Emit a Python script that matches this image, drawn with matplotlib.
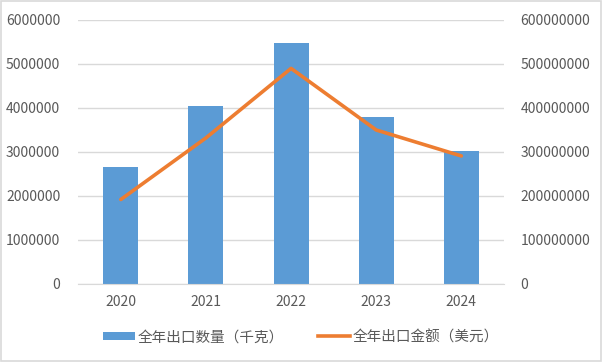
import matplotlib
matplotlib.use("Agg")
import matplotlib.pyplot as plt
from matplotlib.patches import Patch, Rectangle
from matplotlib.lines import Line2D
from matplotlib.ticker import FixedLocator

plt.rcParams['font.family'] = ['Noto Sans CJK SC', 'DejaVu Sans']

years = ["2020", "2021", "2022", "2023", "2024"]
quantity_kg = [2670000, 4050000, 5480000, 3800000, 3030000]
value_usd = [192000000, 332000000, 490000000, 350000000, 291000000]
left_ticks = [0, 1000000, 2000000, 3000000, 4000000, 5000000, 6000000]
right_ticks = [0, 100000000, 200000000, 300000000, 400000000, 500000000, 600000000]
bar_label = "全年出口数量（千克）"
line_label = "全年出口金额（美元）"

bar_color = "#5B9BD5"
line_color = "#ED7D31"
text_color = "#595959"
grid_color = "#D9D9D9"

fig = plt.figure(figsize=(6.02, 3.62), dpi=100)
fig.patches.append(Rectangle((0.002, 0.003), 0.996, 0.994, transform=fig.transFigure,
                             fill=False, edgecolor="#D9D9D9", linewidth=1.2))

ax = fig.add_axes([0.130, 0.2155, 0.707, 0.7293])
x = list(range(len(years)))
ax.bar(x, quantity_kg, width=0.41, color=bar_color, zorder=2)
ax.set_xlim(-0.5, len(years) - 0.5)
ax.set_ylim(0, 6000000)
ax.yaxis.set_major_locator(FixedLocator(left_ticks))
ax.set_yticklabels([str(t) for t in left_ticks])
ax.set_xticks(x)
ax.set_xticklabels(years)
ax.grid(axis='y', color=grid_color, linewidth=1.0, zorder=0)
ax.set_axisbelow(True)
for s in ax.spines.values():
    s.set_visible(False)
ax.spines['bottom'].set_visible(True)
ax.spines['bottom'].set_color(grid_color)
ax.tick_params(axis='both', length=0, colors=text_color, labelsize=10)
ax.tick_params(axis='y', pad=13)
ax.tick_params(axis='x', pad=8)

ax2 = ax.twinx()
ax2.plot(x, value_usd, color=line_color, linewidth=2.6, solid_capstyle='round', zorder=3)
ax2.set_ylim(0, 600000000)
ax2.yaxis.set_major_locator(FixedLocator(right_ticks))
ax2.set_yticklabels([str(t) for t in right_ticks])
for s in ax2.spines.values():
    s.set_visible(False)
ax2.tick_params(axis='y', length=0, colors=text_color, labelsize=10, pad=12)

handles = [Patch(facecolor=bar_color, edgecolor='none'),
           Line2D([0], [0], color=line_color, linewidth=2.6)]
leg = fig.legend(handles, [bar_label, line_label], loc='center', bbox_to_anchor=(0.5, 0.069),
                 ncol=2, frameon=False, fontsize=10.5, handlelength=2.2, handletextpad=0.2,
                 columnspacing=2.3, handleheight=0.5)
for t in leg.get_texts():
    t.set_color(text_color)

fig.savefig("out.png", dpi=100)
